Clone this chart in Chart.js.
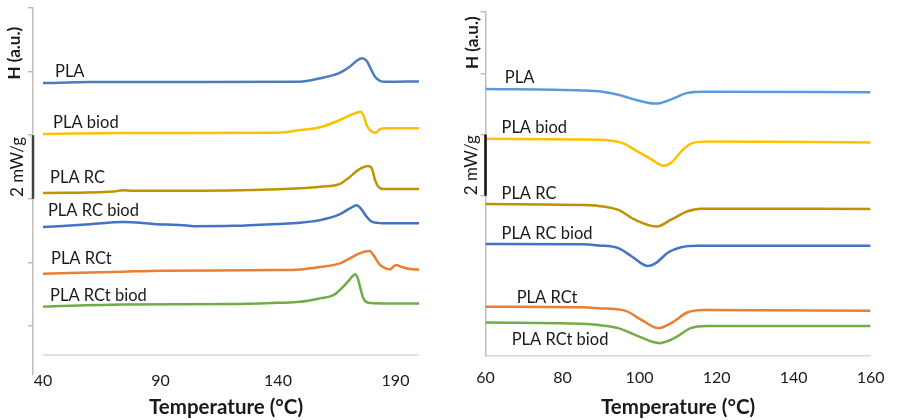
<!DOCTYPE html>
<html>
<head>
<meta charset="utf-8">
<script src="https://cdn.jsdelivr.net/npm/chart.js@4.4.1/dist/chart.umd.min.js"></script>
<style>
  body { margin: 0; background: #fff; }
  .panel { position: absolute; top: 0; height: 420px; }
  #leftBox { left: 0; width: 440px; }
  #rightBox { left: 440px; width: 457px; }
</style>
</head>
<body>
<div class="panel" id="leftBox"><canvas id="leftChart" width="440" height="420"></canvas></div>
<div class="panel" id="rightBox"><canvas id="rightChart" width="457" height="420"></canvas></div>
<script>
'use strict';

// ---- data: [temperature (°C), heat flow (a.u., 1 tick = 2 mW/g)] ----
var names = ['PLA', 'PLA biod', 'PLA RC', 'PLA RC biod', 'PLA RCt', 'PLA RCt biod'];

// left panel, melting region
var meltPLA = [[40,7.64],[60,7.67],[100,7.67],[149,7.68],[158,7.79],[166,7.95],[170.5,8.15],[173.5,8.34],[175.7,8.42],[177.7,8.34],[179.4,8.10],[181.3,7.84],[183.4,7.71],[186,7.68],[200,7.69]];
var meltPLAbiod = [[40,6.04],[74,6.07],[100,6.07],[140,6.08],[149.4,6.16],[157.9,6.25],[166.4,6.48],[172,6.67],[175.2,6.74],[176.6,6.58],[177.7,6.32],[179.4,6.14],[181.7,6.08],[183.4,6.19],[186.2,6.22],[200,6.22]];
var meltRC = [[40,4.18],[70,4.23],[74,4.27],[78,4.25],[100,4.25],[140,4.30],[149.4,4.33],[157.9,4.38],[166.4,4.47],[170.6,4.69],[174.2,4.91],[178.4,5.03],[179.9,4.96],[181.3,4.59],[182.7,4.38],[184.8,4.31],[200,4.31]];
var meltRCbiod = [[40,3.11],[60,3.20],[74.2,3.27],[87,3.21],[101,3.16],[104,3.14],[121,3.15],[140,3.21],[149.4,3.25],[157.9,3.33],[166.4,3.52],[170.6,3.70],[173.5,3.80],[175.2,3.70],[177.7,3.44],[179.9,3.28],[184.8,3.23],[200,3.23]];
var meltRCt = [[40,1.64],[74,1.71],[90,1.74],[140,1.76],[149.4,1.78],[157.9,1.86],[166.4,1.97],[170.6,2.13],[174.9,2.29],[178.9,2.36],[180.6,2.23],[183.4,1.92],[185.9,1.81],[187.6,1.78],[190.2,1.92],[192.6,1.86],[196.2,1.79],[200,1.78]];
var meltRCtbiod = [[40,0.61],[74,0.68],[120,0.69],[140,0.73],[149.4,0.76],[157.9,0.87],[163.6,0.97],[167.8,1.24],[170.6,1.47],[172.8,1.63],[173.7,1.55],[174.9,1.24],[176.3,0.87],[178.4,0.73],[184.8,0.71],[200,0.71]];

// right panel, cold crystallisation region
var crystPLA = [[60,3.49],[85,3.44],[89.4,3.41],[94.5,3.30],[99.6,3.11],[103.9,3.01],[105.6,3.03],[109,3.19],[112.4,3.36],[116.7,3.40],[160,3.38]];
var crystPLAbiod = [[60,1.86],[85,1.84],[89.4,1.83],[95.6,1.72],[98.8,1.50],[103.2,1.18],[106.2,0.98],[108.3,1.09],[111.2,1.50],[113.7,1.72],[118,1.77],[160,1.74]];
var crystRC = [[60,-0.27],[85,-0.30],[89.4,-0.33],[94.5,-0.46],[98.8,-0.78],[104.4,-1.00],[108.2,-0.78],[112.4,-0.51],[115.9,-0.42],[160,-0.43]];
var crystRCbiod = [[60,-1.57],[85,-1.58],[89.4,-1.62],[94.5,-1.71],[98,-1.98],[102.1,-2.29],[104.4,-2.18],[107.4,-1.85],[110.8,-1.68],[115,-1.63],[160,-1.63]];
var crystRCt = [[60,-3.62],[85,-3.64],[89.4,-3.67],[96.2,-3.75],[100.5,-4.05],[104.8,-4.32],[108.2,-4.16],[112.4,-3.81],[116.7,-3.73],[160,-3.75]];
var crystRCtbiod = [[60,-4.14],[85,-4.18],[89.4,-4.22],[94.5,-4.32],[99.6,-4.58],[105.2,-4.81],[109,-4.65],[113.3,-4.32],[117.5,-4.25],[160,-4.25]];

// tick labels
var leftXTicks = [40, 90, 140, 190];
var rightXTicks = [60, 80, 100, 120, 140, 160];
var leftYTicks = [0, 2, 4, 6, 8, 10];
var rightYTicks = [0, 2, 4, 6];

// ---- layout and styling ----
var leftColors = ['#4A7EBB', '#FFC000', '#C09400', '#4472C4', '#ED7D31', '#70AD47'];
var rightColors = ['#5B9BD5', '#FFC000', '#BF9000', '#4472C4', '#ED7D31', '#70AD47'];

// where each curve name is written (temperature, a.u.)
var leftLabelAt = [[45.1,7.99],[44.3,6.38],[43.0,4.65],[42.1,3.62],[43.4,2.11],[43.0,0.94]];
var rightLabelAt = [[65.0,3.86],[64.15,2.22],[64.15,0.07],[64.15,-1.24],[68.1,-3.33],[66.8,-4.71]];

var TEXT = '#1a1a1a';
var AXIS = '#BFBFBF';
Chart.defaults.font.family = 'Lato, "Open Sans", sans-serif';
Chart.defaults.color = TEXT;

function toPoints(pairs) {
    return pairs.map(function (p) { return {x: p[0], y: p[1]}; });
}

function makeDatasets(series, colors) {
    return series.map(function (s, i) {
        return {
            label: names[i],
            data: toPoints(s),
            borderColor: colors[i],
            borderWidth: 2.5,
            pointRadius: 0,
            fill: false,
            cubicInterpolationMode: 'monotone'
        };
    });
}

/**
 * Draws curve names, the 2 mW/g scale bar, the rotated axis captions
 * and (left panel) the detached horizontal axis line.
 */
var panelText = {
    id: 'panelText',
    afterDatasetsDraw: function (chart, args, opts) {
        var ctx = chart.ctx, xs = chart.scales.x, ys = chart.scales.y, area = chart.chartArea;
        ctx.save();

        if (opts.baseLine) {
            ctx.strokeStyle = '#D9D9D9';
            ctx.lineWidth = 1.5;
            ctx.beginPath();
            ctx.moveTo(xs.getPixelForValue(opts.baseLine[0]), ys.getPixelForValue(opts.baseLine[2]));
            ctx.lineTo(xs.getPixelForValue(opts.baseLine[1]), ys.getPixelForValue(opts.baseLine[2]));
            ctx.stroke();
        }

        // scale bar
        ctx.strokeStyle = opts.barColor;
        ctx.lineWidth = 2.5;
        ctx.beginPath();
        ctx.moveTo(area.left, ys.getPixelForValue(opts.bar[0]));
        ctx.lineTo(area.left, ys.getPixelForValue(opts.bar[1]));
        ctx.stroke();

        ctx.fillStyle = TEXT;
        ctx.textBaseline = 'middle';
        ctx.textAlign = 'left';
        ctx.font = '16.5px Lato';
        opts.labelAt.forEach(function (p, i) {
            ctx.fillText(names[i], xs.getPixelForValue(p[0]), ys.getPixelForValue(p[1]));
        });

        // rotated captions
        ctx.textAlign = 'center';
        ctx.save();
        ctx.translate(area.left - opts.hOffset, ys.getPixelForValue(opts.hAt));
        ctx.rotate(-Math.PI / 2);
        ctx.font = 'bold 17px Lato';
        ctx.fillText('H (a.u.)', 0, 0);
        ctx.restore();

        ctx.save();
        ctx.translate(area.left - opts.barOffset, ys.getPixelForValue((opts.bar[0] + opts.bar[1]) / 2));
        ctx.rotate(-Math.PI / 2);
        ctx.font = '17px Lato';
        ctx.fillText('2 mW/g', 0, 0);
        ctx.restore();

        ctx.restore();
    }
};

function makeChart(canvasId, cfg) {
    return new Chart(document.getElementById(canvasId).getContext('2d'), {
        type: 'line',
        data: {datasets: makeDatasets(cfg.series, cfg.colors)},
        plugins: [panelText],
        options: {
            responsive: false,
            animation: false,
            layout: {padding: cfg.padding},
            plugins: {
                legend: {display: false},
                tooltip: {enabled: false},
                panelText: cfg.text
            },
            scales: {
                x: {
                    type: 'linear',
                    min: cfg.xMin,
                    max: cfg.xMax,
                    afterBuildTicks: function (scale) {
                        scale.ticks = cfg.xTicks.map(function (v) { return {value: v}; });
                    },
                    afterFit: function (scale) { scale.height = cfg.xHeight; },
                    grid: {display: false, drawTicks: false},
                    border: cfg.xBorder,
                    ticks: {
                        padding: cfg.xTickPad,
                        maxRotation: 0,
                        autoSkip: false,
                        color: TEXT,
                        font: {size: 16}
                    },
                    title: {
                        display: true,
                        text: 'Temperature (°C)',
                        color: TEXT,
                        padding: {top: 0, bottom: 0},
                        font: {size: 20.5, weight: 'bold'}
                    }
                },
                y: {
                    type: 'linear',
                    min: cfg.yMin,
                    max: cfg.yMax,
                    afterBuildTicks: function (scale) {
                        scale.ticks = cfg.yTicks.map(function (v) { return {value: v}; });
                    },
                    afterFit: function (scale) { scale.width = cfg.yWidth; },
                    grid: {drawOnChartArea: false, tickLength: 5, color: AXIS, lineWidth: 1.5},
                    border: {display: true, color: AXIS, width: 1.5},
                    ticks: {display: false}
                }
            }
        }
    });
}

makeChart('leftChart', {
    series: [meltPLA, meltPLAbiod, meltRC, meltRCbiod, meltRCt, meltRCtbiod],
    colors: leftColors,
    padding: {left: 0, right: 21, top: 8, bottom: 0},
    xMin: 35.75, xMax: 200, xTicks: leftXTicks, xHeight: 45, xTickPad: -4,
    xBorder: {display: false},
    yMin: -1.54, yMax: 10, yTicks: leftYTicks, yWidth: 33,
    text: {
        labelAt: leftLabelAt,
        baseLine: [40, 200, -0.91],
        bar: [4, 6], barColor: '#404040',
        hAt: 8.58, hOffset: 18, barOffset: 15
    }
});

makeChart('rightChart', {
    series: [crystPLA, crystPLAbiod, crystRC, crystRCbiod, crystRCt, crystRCtbiod],
    colors: rightColors,
    padding: {left: 0, right: 21.5, top: 12, bottom: 0},
    xMin: 60, xMax: 160, xTicks: rightXTicks, xHeight: 64, xTickPad: 12.5,
    xBorder: {display: true, color: '#D9D9D9', width: 1.5},
    yMin: -5.23, yMax: 6, yTicks: rightYTicks, yWidth: 45.5,
    text: {
        labelAt: rightLabelAt,
        bar: [0, 2], barColor: '#111111',
        hAt: 5.0, hOffset: 12.5, barOffset: 13.5
    }
});
</script>
</body>
</html>
